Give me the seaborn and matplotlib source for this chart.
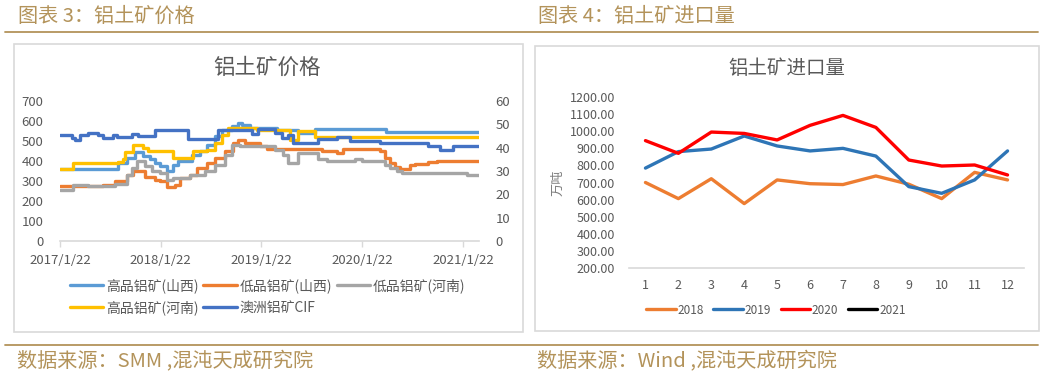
import matplotlib
matplotlib.use("Agg")
import matplotlib.pyplot as plt
from matplotlib.lines import Line2D
from matplotlib.patches import Rectangle
import pandas as pd
import seaborn as sns

# ---------------- 数据 ----------------
# 图表3 铝土矿价格（阶梯变动点：日期, 价格）
gp_sx_dates = ["2017-01-22", "2017-08-21", "2017-09-21", "2017-10-21", "2017-11-20",
               "2017-12-14", "2018-01-01", "2018-01-20", "2018-02-13", "2018-03-09",
               "2018-03-27", "2018-05-14", "2018-06-14", "2018-07-08", "2018-08-07",
               "2018-08-31", "2018-10-06", "2018-10-31", "2018-11-12", "2018-12-12",
               "2019-03-19", "2019-06-05", "2019-08-05", "2020-04-18", "2021-03-21"]
gp_sx_vals = [360, 390, 415, 443, 423, 410, 390, 373, 348, 381,
              398, 431, 448, 481, 523, 556, 573, 590, 581, 565,
              556, 541, 558, 543, 543]

dp_sx_dates = ["2017-01-22", "2017-06-28", "2017-08-09", "2017-09-21", "2017-10-15",
               "2017-11-26", "2018-01-01", "2018-01-20", "2018-02-13", "2018-03-15",
               "2018-04-02", "2018-05-08", "2018-06-02", "2018-07-08", "2018-08-07",
               "2018-09-12", "2018-10-12", "2018-10-31", "2018-11-24", "2019-01-17",
               "2019-02-10", "2019-08-29", "2019-10-22", "2019-11-15", "2020-03-27",
               "2020-04-14", "2020-05-02", "2020-05-20", "2020-06-07", "2020-07-13",
               "2020-08-01", "2020-09-17", "2020-10-18", "2021-03-21"]
dp_sx_vals = [273, 281, 298, 331, 351, 318, 306, 298, 270, 281,
              315, 331, 365, 390, 415, 448, 490, 503, 490, 473,
              460, 448, 440, 460, 448, 416, 391, 372, 362, 381,
              386, 393, 398, 398]

dp_hn_dates = ["2017-01-22", "2017-03-11", "2017-05-05", "2017-08-09", "2017-09-21",
               "2017-10-09", "2017-10-27", "2017-11-26", "2017-12-20", "2018-01-20",
               "2018-02-13", "2018-03-09", "2018-05-08", "2018-07-02", "2018-08-07",
               "2018-09-12", "2018-10-06", "2018-11-06", "2019-03-13", "2019-04-12",
               "2019-04-30", "2019-06-05", "2019-08-17", "2019-09-16", "2019-12-28",
               "2020-01-21", "2020-04-14", "2020-05-02", "2020-05-26", "2020-06-14",
               "2021-02-04", "2021-03-21"]
dp_hn_vals = [256, 281, 273, 286, 331, 365, 398, 373, 348, 340,
              306, 315, 331, 348, 381, 431, 481, 474, 456, 431,
              390, 440, 410, 398, 410, 398, 381, 365, 351, 340,
              328, 328]

gp_hn_dates = ["2017-01-22", "2017-03-11", "2017-08-21", "2017-09-09", "2017-09-15",
               "2017-10-15", "2017-11-20", "2017-12-08", "2018-03-09", "2018-05-20",
               "2018-07-08", "2018-08-07", "2018-08-31", "2018-09-24", "2019-01-05",
               "2019-05-06", "2019-06-05", "2019-08-05", "2021-03-21"]
gp_hn_vals = [360, 388, 396, 410, 443, 481, 465, 448, 415, 448,
              456, 490, 531, 565, 556, 505, 550, 520, 520]

cif_dates = ["2017-01-22", "2017-03-05", "2017-03-17", "2017-04-05", "2017-05-05",
             "2017-06-10", "2017-06-28", "2017-08-03", "2017-08-15", "2017-10-09",
             "2017-11-02", "2018-01-01", "2018-05-02", "2018-08-19", "2018-12-18",
             "2019-01-10", "2019-03-13", "2019-04-06", "2019-04-30", "2019-05-18",
             "2019-08-17", "2019-10-22", "2019-12-09", "2020-03-27", "2020-09-17",
             "2020-10-30", "2020-12-17", "2021-03-21"]
cif_vals = [45.6, 44.1, 43.1, 45.6, 46.5, 45.6, 44.1, 45.6, 44.4, 46.0,
            45.1, 47.4, 43.7, 47.4, 46.0, 48.2, 46.4, 44.3, 45.6, 42.1,
            43.8, 44.5, 43.0, 42.0, 40.8, 39.2, 40.8, 40.8]

price_ticks = ["2017-01-22", "2018-01-22", "2019-01-22", "2020-01-22", "2021-01-22"]
price_tick_labels = ["2017/1/22", "2018/1/22", "2019/1/22", "2020/1/22", "2021/1/22"]

# 图表4 铝土矿进口量（万吨）
months = list(range(1, 13))
imp_2018 = [700, 606, 722, 577, 715, 693, 688, 738, 690, 606, 759, 715]
imp_2019 = [784, 880, 895, 971, 913, 884, 899, 854, 676, 637, 715, 884]
imp_2020 = [944, 870, 994, 986, 948, 1033, 1091, 1021, 831, 796, 802, 744]
imp_2021 = []

# ---------------- 样式 ----------------
sns.set_theme(style="white")
plt.rcParams["font.family"] = ["Noto Sans CJK SC", "DejaVu Sans"]
plt.rcParams["axes.unicode_minus"] = False

W, H = 1046, 377
gold = "#B3935A"
txt = "#595959"
axis_grey = "#D9D9D9"

fig = plt.figure(figsize=(W / 100, H / 100), dpi=100)


def fx(px):
    return px / W


def fy(py):
    return 1 - py / H


# 页眉/页脚
fig.text(fx(18), fy(16), "图表 3：铝土矿价格", color=gold, fontsize=14.5, va="center")
fig.text(fx(538), fy(16), "图表 4：铝土矿进口量", color=gold, fontsize=14.5, va="center")
fig.text(fx(17), fy(362), "数据来源：SMM ,混沌天成研究院", color=gold, fontsize=14.5, va="center")
fig.text(fx(537), fy(362), "数据来源：Wind ,混沌天成研究院", color=gold, fontsize=14.5, va="center")
fig.add_artist(Line2D([fx(5), fx(1038)], [fy(32), fy(32)], transform=fig.transFigure,
                      color=gold, lw=1.3))
fig.add_artist(Line2D([fx(5), fx(1038)], [fy(345), fy(345)], transform=fig.transFigure,
                      color=gold, lw=1.3))

# 图框
fig.add_artist(Rectangle((fx(14), fy(332)), fx(509), 288 / H, transform=fig.transFigure,
                         fill=False, ec=axis_grey, lw=1.2))
fig.add_artist(Rectangle((fx(535), fy(331)), fx(504), 285 / H, transform=fig.transFigure,
                         fill=False, ec=axis_grey, lw=1.2))

# ---------------- 图表3 ----------------
ax = fig.add_axes([fx(60), fy(241), fx(419), 140 / H])
ax2 = ax.twinx()

left_series = [
    ("高品铝矿(山西)", gp_sx_dates, gp_sx_vals, "#5B9BD5"),
    ("低品铝矿(山西)", dp_sx_dates, dp_sx_vals, "#ED7D31"),
    ("低品铝矿(河南)", dp_hn_dates, dp_hn_vals, "#A5A5A5"),
    ("高品铝矿(河南)", gp_hn_dates, gp_hn_vals, "#FFC000"),
]
for name, d, v, c in left_series:
    df = pd.DataFrame({"date": pd.to_datetime(d), "value": v})
    sns.lineplot(data=df, x="date", y="value", ax=ax, color=c, lw=2.4,
                 drawstyle="steps-post", label=name, estimator=None)

cif_df = pd.DataFrame({"date": pd.to_datetime(cif_dates), "value": cif_vals})
sns.lineplot(data=cif_df, x="date", y="value", ax=ax2, color="#4472C4", lw=2.4,
             drawstyle="steps-post", label="澳洲铝矿CIF", estimator=None)

for a in (ax, ax2):
    if a.get_legend():
        a.get_legend().remove()
    a.set_xlabel("")
    a.set_ylabel("")

ax.set_xlim(pd.Timestamp("2017-01-22"), pd.Timestamp("2021-03-21"))
ax.set_ylim(0, 700)
ax.set_yticks(range(0, 701, 100))
ax2.set_ylim(0, 60)
ax2.set_yticks(range(0, 61, 10))
ax.set_xticks(pd.to_datetime(price_ticks))
ax.set_xticklabels(price_tick_labels)

for s in ["top", "left", "right"]:
    ax.spines[s].set_visible(False)
    ax2.spines[s].set_visible(False)
ax2.spines["bottom"].set_visible(False)
ax.spines["bottom"].set_color(axis_grey)
ax.spines["bottom"].set_linewidth(1.2)
ax.tick_params(axis="x", length=4, width=1, color=axis_grey, pad=5, labelsize=9.5,
               labelcolor=txt, bottom=True)
ax.tick_params(axis="y", length=0, pad=12, labelsize=9.5, labelcolor=txt)
ax2.tick_params(axis="y", length=0, pad=12, labelsize=9.5, labelcolor=txt)

fig.text(fx(267), fy(68), "铝土矿价格", color=txt, fontsize=15.5, ha="center", va="center")

h1, l1 = ax.get_legend_handles_labels()
h2, l2 = ax2.get_legend_handles_labels()
hh, ll = h1 + h2, l1 + l2
order = [0, 3, 1, 4, 2]  # legend fills column-wise; reorder for row-wise reading
fig.legend([hh[i] for i in order], [ll[i] for i in order], loc="upper left",
           bbox_to_anchor=(fx(70), fy(278)),
           ncol=3, frameon=False, fontsize=10, handlelength=2.4, handletextpad=0.2,
           columnspacing=0.35, labelspacing=0.55, borderpad=0, borderaxespad=0,
           labelcolor=txt)

# ---------------- 图表4 ----------------
bx = fig.add_axes([fx(629), fy(268.3), fx(395), 171.6 / H])
imp_df = pd.DataFrame({
    "月份": months * 3,
    "进口量": imp_2018 + imp_2019 + imp_2020,
    "年份": ["2018"] * 12 + ["2019"] * 12 + ["2020"] * 12,
})
pal = {"2018": "#ED7D31", "2019": "#2E75B6", "2020": "#FF0000"}
sns.lineplot(data=imp_df, x="月份", y="进口量", hue="年份", palette=pal, ax=bx, lw=2.4,
             estimator=None)
if bx.get_legend():
    bx.get_legend().remove()
# 2021 has no data yet; it only appears in the legend
bx.plot(imp_2021, imp_2021, color="black", lw=2.4, label="2021")

bx.set_xlim(0.5, 12.5)
bx.set_ylim(200, 1200)
bx.set_xticks(months)
bx.set_yticks(range(200, 1201, 100))
bx.set_yticklabels([f"{v:.2f}" for v in range(200, 1201, 100)])
bx.set_xlabel("")
bx.set_ylabel("万吨", color="#7F7F7F", fontsize=9.5, labelpad=4)
for s in ["top", "left", "right"]:
    bx.spines[s].set_visible(False)
bx.spines["bottom"].set_color(axis_grey)
bx.spines["bottom"].set_linewidth(1.2)
bx.tick_params(axis="x", length=0, pad=8, labelsize=9, labelcolor=txt)
bx.tick_params(axis="y", length=0, pad=10, labelsize=9, labelcolor=txt)

fig.text(fx(787), fy(69), "铝土矿进口量", color=txt, fontsize=14, ha="center", va="center")

hb, lb = bx.get_legend_handles_labels()
fig.legend(hb, lb, loc="center", bbox_to_anchor=(fx(776), fy(310)), ncol=4,
           frameon=False, fontsize=8.5, handlelength=2.5, handletextpad=0.15,
           columnspacing=0.8, borderpad=0, borderaxespad=0, labelcolor=txt)

fig.savefig("out.png", dpi=100)
